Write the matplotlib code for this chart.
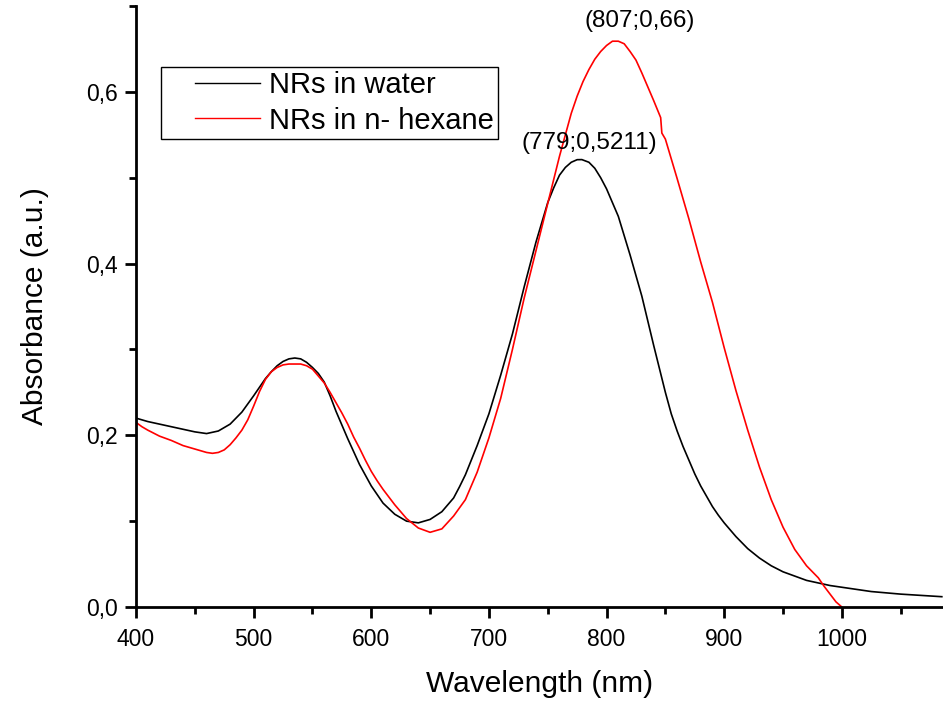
import matplotlib
matplotlib.use('Agg')
import matplotlib.pyplot as plt
from matplotlib.ticker import MultipleLocator, FuncFormatter
from matplotlib.legend_handler import HandlerLine2D

plt.rcParams['font.family'] = ['Liberation Sans', 'DejaVu Sans']

# NRs in water (black)
wl_water = [400, 410, 420, 430, 440, 450, 460, 470, 480, 490, 500, 505, 510, 515, 520,
            525, 530, 535, 540, 545, 550, 555, 560, 565, 570, 575, 580, 590, 600, 610,
            620, 630, 640, 650, 660, 670, 675, 680, 690, 700, 710, 720, 730, 740, 750,
            755, 760, 765, 770, 775, 779, 785, 790, 795, 800, 805, 810, 820, 830, 840,
            850, 855, 860, 865, 870, 875, 880, 885, 890, 895, 900, 910, 920, 930, 940,
            950, 960, 970, 980, 990, 1000, 1025, 1050, 1085]
abs_water = [0.220, 0.216, 0.213, 0.210, 0.207, 0.204, 0.202, 0.205, 0.213, 0.227, 0.246,
             0.256, 0.266, 0.274, 0.281, 0.286, 0.289, 0.290, 0.289, 0.285, 0.279, 0.272,
             0.262, 0.246, 0.228, 0.212, 0.196, 0.166, 0.141, 0.121, 0.108, 0.100, 0.098,
             0.102, 0.111, 0.127, 0.140, 0.154, 0.188, 0.225, 0.270, 0.318, 0.373, 0.425,
             0.471, 0.488, 0.503, 0.512, 0.518, 0.521, 0.5211, 0.518, 0.511, 0.500, 0.487,
             0.471, 0.455, 0.410, 0.362, 0.305, 0.250, 0.225, 0.205, 0.187, 0.171, 0.155,
             0.141, 0.129, 0.117, 0.107, 0.098, 0.082, 0.068, 0.057, 0.048, 0.041, 0.036,
             0.031, 0.028, 0.025, 0.023, 0.018, 0.015, 0.012]

# NRs in n-hexane (red)
wl_hex = [400, 405, 410, 420, 430, 440, 450, 460, 465, 470, 475, 480, 485, 490, 495, 500,
          505, 510, 515, 520, 525, 530, 540, 545, 550, 555, 560, 565, 570, 575, 580, 585,
          590, 595, 600, 605, 610, 620, 630, 640, 650, 660, 670, 680, 690, 700, 710, 720,
          730, 740, 750, 760, 765, 770, 775, 780, 785, 790, 795, 800, 805, 810, 815, 820,
          825, 830, 835, 840, 846, 847, 850, 860, 870, 880, 890, 900, 910, 920, 930, 940,
          950, 960, 970, 980, 985, 990, 995, 1000]
abs_hex = [0.215, 0.210, 0.206, 0.199, 0.194, 0.188, 0.184, 0.180, 0.179, 0.180, 0.183,
           0.189, 0.197, 0.206, 0.218, 0.234, 0.251, 0.265, 0.274, 0.279, 0.282, 0.283,
           0.283, 0.281, 0.277, 0.269, 0.261, 0.250, 0.238, 0.226, 0.213, 0.198, 0.185,
           0.171, 0.158, 0.147, 0.137, 0.119, 0.103, 0.092, 0.087, 0.091, 0.106, 0.125,
           0.157, 0.197, 0.243, 0.300, 0.360, 0.415, 0.470, 0.525, 0.550, 0.575, 0.595,
           0.612, 0.626, 0.638, 0.647, 0.654, 0.659, 0.659, 0.656, 0.647, 0.637, 0.622,
           0.606, 0.590, 0.570, 0.552, 0.545, 0.499, 0.452, 0.402, 0.355, 0.302, 0.252,
           0.206, 0.163, 0.125, 0.093, 0.067, 0.048, 0.034, 0.024, 0.015, 0.006, 0.0]

fig = plt.figure(figsize=(9.43, 7.04), dpi=100)
ax = fig.add_axes([136/943, 97/704, 807/943, 601/704])

ax.plot(wl_water, abs_water, color='black', lw=1.2, label='NRs in water')
ax.plot(wl_hex, abs_hex, color='red', lw=1.2, label='NRs in n- hexane')

ax.set_xlim(400, 1086)
ax.set_ylim(0, 0.70)
ax.xaxis.set_major_locator(MultipleLocator(100))
ax.xaxis.set_minor_locator(MultipleLocator(50))
ax.yaxis.set_major_locator(MultipleLocator(0.2))
ax.yaxis.set_minor_locator(MultipleLocator(0.1))
ax.yaxis.set_major_formatter(FuncFormatter(lambda v, p: ('%.1f' % v).replace('.', ',')))

for s in ['top', 'right']:
    ax.spines[s].set_visible(False)
for s in ['left', 'bottom']:
    ax.spines[s].set_linewidth(2)
ax.tick_params(which='major', direction='out', length=8, width=2, labelsize=16.5)
ax.tick_params(axis='x', which='major', pad=7)
ax.tick_params(axis='y', which='major', pad=5)
ax.tick_params(which='minor', direction='out', length=5, width=2)

ax.set_xlabel('Wavelength (nm)', fontsize=21.5, labelpad=14)
ax.set_ylabel('Absorbance (a.u.)', fontsize=21.5, labelpad=27)

ax.text(785, 0.541, '(779;0,5211)', fontsize=17.5, ha='center', va='center')
ax.text(828, 0.683, '(807;0,66)', fontsize=17.5, ha='center', va='center')

leg = ax.legend(loc='upper left', bbox_to_anchor=(161/943, 1 - 67/704),
                bbox_transform=fig.transFigure, fontsize=21, fancybox=False,
                edgecolor='black', framealpha=1, borderpad=0.15, labelspacing=0.25,
                handlelength=3.24, handletextpad=0.3, borderaxespad=0,
                handler_map={plt.Line2D: HandlerLine2D(xpad=1.0)})
leg.get_frame().set_linewidth(1)
for ln in leg.get_lines():
    ln.set_linewidth(1)

fig.savefig('out.png', dpi=100)
